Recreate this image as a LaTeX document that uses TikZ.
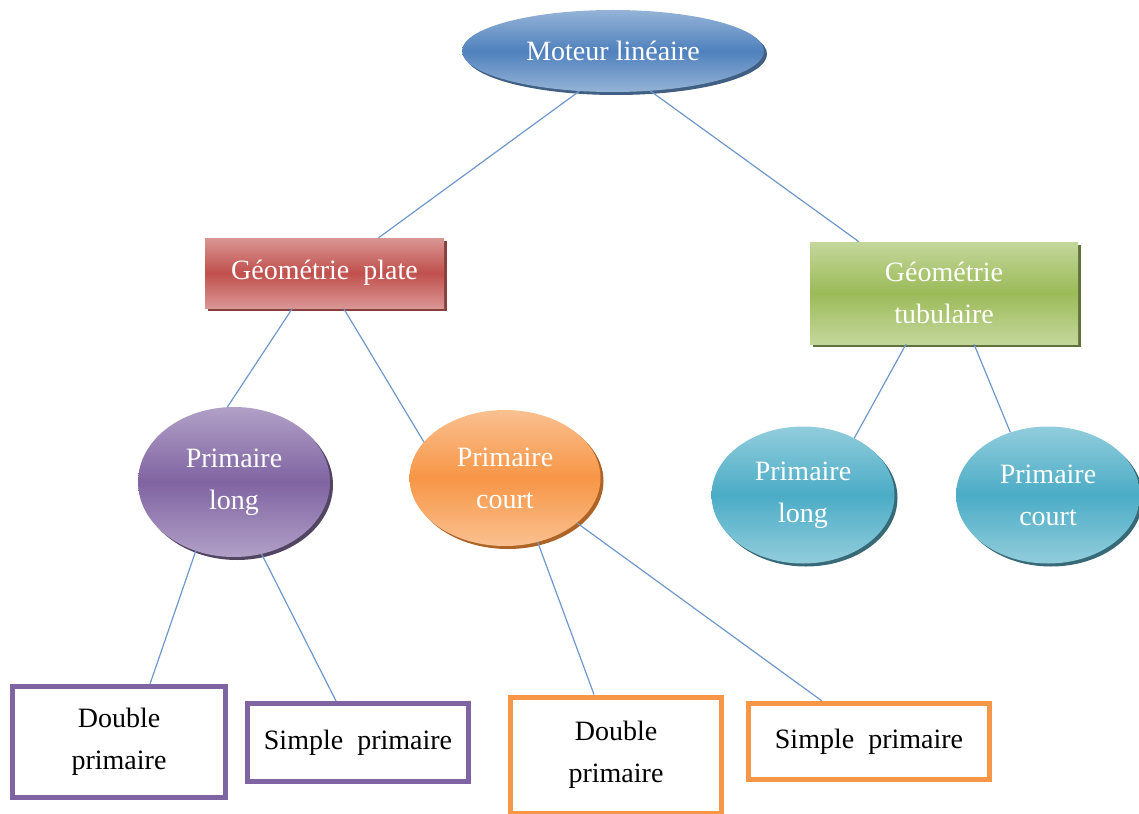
\documentclass[tikz,border=0pt]{standalone}
\usepackage{fontspec}
\setmainfont{Liberation Serif}
\usetikzlibrary{shapes.geometric,shadows}

\definecolor{blueM}{HTML}{4F81BD}\definecolor{blueL}{HTML}{95B3D7}\definecolor{blueD}{HTML}{2C4D75}
\definecolor{redM}{HTML}{C0504D}\definecolor{redL}{HTML}{DA9694}\definecolor{redD}{HTML}{7A2B29}
\definecolor{greenM}{HTML}{9BBB59}\definecolor{greenL}{HTML}{C4D79B}\definecolor{greenD}{HTML}{4F6228}
\definecolor{purpM}{HTML}{8064A2}\definecolor{purpL}{HTML}{B1A0C7}\definecolor{purpD}{HTML}{3F3151}
\definecolor{oranM}{HTML}{F79646}\definecolor{oranL}{HTML}{FAC090}\definecolor{oranD}{HTML}{A5520F}
\definecolor{tealM}{HTML}{4BACC6}\definecolor{tealL}{HTML}{92CDDC}\definecolor{tealD}{HTML}{215968}
\definecolor{linkC}{HTML}{6F97CC}

\tikzset{
  txt/.style={font=\fontsize{28}{42}\selectfont, align=center, inner sep=0pt},
  glossy/.style={txt, text=white, top color=#1L, bottom color=#1L, middle color=#1M,
    drop shadow={shadow xshift=3pt, shadow yshift=-3pt, fill=#1D, opacity=0.9}},
  oval/.style={ellipse, glossy=#1},
  bar/.style={rectangle, glossy=#1},
  leaf/.style={rectangle, draw=#1, line width=5pt, fill=white, txt, text=black},
  link/.style={draw=linkC, line width=1.2pt},
}

\begin{document}
\begin{tikzpicture}[x=1pt, y=-1pt]
\useasboundingbox (0,0) rectangle (1139,813);
\clip (0,0) rectangle (1139,813);

% root and the two geometry families
\node[oval=blue, minimum width=302pt, minimum height=82pt] (top) at (613,51) {Moteur linéaire};
\node[bar=red, minimum width=239pt, minimum height=70pt] (plate) at (324.5,273) {Géométrie~ plate};
\node[bar=green, minimum width=268pt, minimum height=102pt] (tub) at (944,293) {Géométrie\\tubulaire};

% primary types
\node[oval=purp, minimum width=192pt, minimum height=150pt] (plL) at (234,482) {Primaire\\long};
\node[oval=oran, minimum width=191pt, minimum height=136pt] (plC) at (505,478) {Primaire\\court};
\node[oval=teal, minimum width=183pt, minimum height=137pt] (tbL) at (803,495) {Primaire\\long};
\node[oval=teal, minimum width=184pt, minimum height=137pt] (tbC) at (1048,495) {Primaire\\court};

% windings
\node[leaf=purpM, minimum width=213pt, minimum height=111pt] (dp1) at (119,742) {Double\\primaire};
\node[leaf=purpM, minimum width=221pt, minimum height=78pt] (sp1) at (358,742.5) {Simple~ primaire};
\node[leaf=oranM, minimum width=211pt, minimum height=116pt] (dp2) at (616,755) {Double\\primaire};
\node[leaf=oranM, minimum width=241pt, minimum height=76pt] (sp2) at (869,741.5) {Simple~ primaire};

% tree links
\path[link] (top.230) -- ([xshift=54pt]plate.north);
\path[link] (top.313) -- ([xshift=-85pt]tub.north);
\path[link] ([xshift=-32pt]plate.south) -- (plL.95);
\path[link] ([xshift=19pt]plate.south) -- (plC.156);
\path[link] ([xshift=-38pt]tub.south) -- (tbL.48);
\path[link] ([xshift=30pt]tub.south) -- (tbC.121);
\path[link] (plL.241) -- ([xshift=31pt]dp1.north);
\path[link] (plL.291) -- ([xshift=-22pt]sp1.north);
\path[link] (plC.297) -- ([xshift=-22pt]dp2.north);
\path[link] (plC.328) -- ([xshift=-47pt]sp2.north);
\end{tikzpicture}
\end{document}
